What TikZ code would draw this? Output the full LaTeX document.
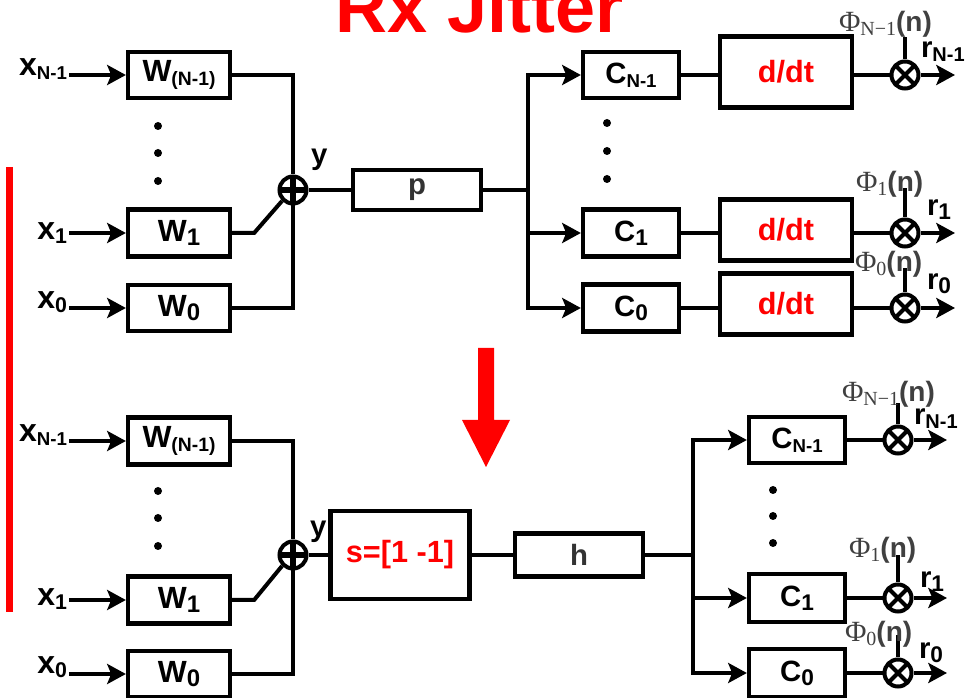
\documentclass[tikz,border=0pt]{standalone}
\usepackage{fontspec}
\setmainfont{Liberation Sans}
\newfontfamily\phifont{Liberation Serif}
\usetikzlibrary{arrows.meta,calc}
\definecolor{phigray}{RGB}{64,64,64}
\definecolor{lblgray}{RGB}{51,51,51}
\newcommand\fs[1]{\fontsize{#1}{#1}\selectfont}
\newcommand\sbs[2]{\raisebox{-3pt}{\fs{#1}#2}}
\newcommand\philab[1]{{\color{phigray}{\phifont\mdseries\fs{22pt}Φ\raisebox{-3pt}{\fs{15pt}#1}}{\fs{21pt}\bfseries(n)}}}
\begin{document}
\begin{tikzpicture}[x=0.75pt,y=-0.75pt,line width=3pt,
  blk/.style={draw,line width=3.2pt,inner sep=0pt,font=\bfseries},
  sz/.style 2 args={minimum width=#1*0.75pt,minimum height=#2*0.75pt},
  lbl/.style={inner sep=0pt,font=\bfseries},
  arr/.style={-{Stealth[length=14pt,width=15pt,inset=3pt]}},
  sum/.style={circle,draw,line width=3pt,inner sep=0pt,minimum size=27*0.75pt,
    path picture={\draw[line width=4pt] (path picture bounding box.north) -- (path picture bounding box.south)
      (path picture bounding box.west) -- (path picture bounding box.east);}},
  mult/.style={circle,draw,line width=3pt,inner sep=0pt,minimum size=27*0.75pt,
    path picture={\draw[line width=3pt] (path picture bounding box.north west) -- (path picture bounding box.south east)
      (path picture bounding box.north east) -- (path picture bounding box.south west);}},
  dot/.style={circle,fill,inner sep=0pt,minimum size=8*0.75pt},
  rlab/.style={lbl,anchor=base west},
  flab/.style={inner sep=0pt,anchor=base west}
]
\useasboundingbox (0,0) rectangle (972,698);
\clip (0,0) rectangle (972,698);

% title and red marks
\node[lbl,red,anchor=base,font=\bfseries\fs{54pt}] (title) at (480,33) {Rx Jitter};
\draw[red,line width=5.25pt] (9.5,167) -- (9.5,612);
\fill[red] (478,348) -- (494,348) -- (494,420) -- (510,420) -- (486,467) -- (462,420) -- (478,420) -- cycle;

% ===== top =====
\node[blk,sz={102}{46}] (wN) at (179,75) {\fs{23pt}W\sbs{14.5pt}{(N-1)}};
\node[blk,sz={102}{47}] (w1) at (179,233) {\fs{23pt}W\sbs{18pt}{1}};
\node[blk,sz={102}{46}] (w0) at (179,308) {\fs{23pt}W\sbs{18pt}{0}};
\node[lbl,anchor=base east] (xN) at (69,76) {\fs{24pt}x\sbs{14pt}{N-1}};
\node[lbl,anchor=base east] (x1) at (69,240) {\fs{24pt}x\sbs{16pt}{1}};
\node[lbl,anchor=base east] (x0) at (69,309) {\fs{24pt}x\sbs{16pt}{0}};
\draw[arr] (wN.west -| xN.east) -- (wN.west);
\draw[arr] (w1.west -| x1.east) -- (w1.west);
\draw[arr] (w0.west -| x0.east) -- (w0.west);
\node[dot] (dA1) at (158,126) {};
\node[dot] (dA2) at (158,153) {};
\node[dot] (dA3) at (158,181) {};
\node[sum] (s1) at (293,190) {};
\draw (wN.east) -| (s1.north);
\draw (w0.east) -| (s1.south);
\draw (w1.east) -- ++(22,0) -- (s1.south west);
\node[lbl,anchor=base west] (y1) at (309,165) {\fs{22pt}y};
\node[blk,sz={128}{40}] (p) at (417,190) {\color{lblgray}\fs{22pt}p};
\draw (s1.east) -- (p.west);
\coordinate (b1) at (528,190);
\node[blk,sz={96}{46}] (cN) at (631,75) {\fs{22pt}C\sbs{14pt}{N-1}};
\node[blk,sz={96}{47}] (c1) at (631,233) {\fs{22pt}C\sbs{17pt}{1}};
\node[blk,sz={96}{47}] (c0) at (631,308) {\fs{22pt}C\sbs{17pt}{0}};
\draw (p.east) -- (b1);
\draw[line cap=rect] (cN.west -| b1) -- (c0.west -| b1);
\draw[arr] (cN.west -| b1) -- (cN.west);
\draw[arr] (c1.west -| b1) -- (c1.west);
\draw[arr] (c0.west -| b1) -- (c0.west);
\node[dot] (dB1) at (607,123) {};
\node[dot] (dB2) at (607,151) {};
\node[dot] (dB3) at (607,179) {};
\node[blk,sz={132}{71}] (ddN) at (786,72) {\color{red}\fs{23pt}d/dt};
\node[blk,sz={132}{61}] (dd1) at (786,230) {\color{red}\fs{23pt}d/dt};
\node[blk,sz={132}{61}] (dd0) at (786,304) {\color{red}\fs{23pt}d/dt};
\node[mult] (mN) at (905,75) {};
\node[mult] (m1) at (905,233) {};
\node[mult] (m0) at (905,308) {};
\draw (cN.east) -- (cN.east -| ddN.west);
\draw (c1.east) -- (c1.east -| dd1.west);
\draw (c0.east) -- (c0.east -| dd0.west);
\draw (mN.west -| ddN.east) -- (mN.west);
\draw (m1.west -| dd1.east) -- (m1.west);
\draw (m0.west -| dd0.east) -- (m0.west);
\coordinate (oN) at (955,75);
\coordinate (o1) at (955,233);
\coordinate (o0) at (955,308);
\draw[arr] (mN.east) -- (oN);
\draw[arr] (m1.east) -- (o1);
\draw[arr] (m0.east) -- (o0);
\coordinate (tN) at (905,37);
\coordinate (t1) at (905,188);
\coordinate (t0) at (905,268);
\draw (mN.north) -- (tN);
\draw (m1.north) -- (t1);
\draw (m0.north) -- (t0);
\node[flab] (fN) at (837,32) {\philab{N−1}};
\node[flab] (f1) at (854,192) {\philab{1}};
\node[flab] (f0) at (853,272) {\philab{0}};
\node[rlab] (rN) at (919,58) {\fs{22pt}r\sbs{15pt}{N-1}};
\node[rlab] (r1) at (925,216) {\fs{22pt}r\sbs{17pt}{1}};
\node[rlab] (r0) at (925,290) {\fs{22pt}r\sbs{17pt}{0}};

% ===== bottom =====
\node[blk,sz={102}{47}] (wN2) at (179,441) {\fs{23pt}W\sbs{14.5pt}{(N-1)}};
\node[blk,sz={102}{47}] (w12) at (179,600) {\fs{23pt}W\sbs{18pt}{1}};
\node[blk,sz={102}{46}] (w02) at (179,674) {\fs{23pt}W\sbs{18pt}{0}};
\node[lbl,anchor=base east] (xN2) at (69,442) {\fs{24pt}x\sbs{14pt}{N-1}};
\node[lbl,anchor=base east] (x12) at (69,606) {\fs{24pt}x\sbs{16pt}{1}};
\node[lbl,anchor=base east] (x02) at (69,673) {\fs{24pt}x\sbs{16pt}{0}};
\draw[arr] (wN2.west -| xN2.east) -- (wN2.west);
\draw[arr] (w12.west -| x12.east) -- (w12.west);
\draw[arr] (w02.west -| x02.east) -- (w02.west);
\node[dot] (dC1) at (158,491) {};
\node[dot] (dC2) at (158,518) {};
\node[dot] (dC3) at (158,546) {};
\node[sum] (s2) at (293,555) {};
\draw (wN2.east) -| (s2.north);
\draw (w02.east) -| (s2.south);
\draw (w12.east) -- ++(22,0) -- (s2.south west);
\node[lbl,anchor=base west] (y2) at (308,537) {\fs{22pt}y};
\node[blk,sz={139}{88}] (sb) at (400,555) {\color{red}\fs{23pt}s=[1 -1]};
\node[blk,sz={128}{43}] (hb) at (579,555) {\color{lblgray}\fs{22pt}h};
\draw (s2.east) -- (sb.west);
\draw (sb.east) -- (hb.west);
\coordinate (b2) at (693,555);
\draw (hb.east) -- (b2);
\node[blk,sz={96}{46}] (cN2) at (797,440) {\fs{22pt}C\sbs{14pt}{N-1}};
\node[blk,sz={96}{48}] (c12) at (797,598) {\fs{22pt}C\sbs{17pt}{1}};
\node[blk,sz={96}{48}] (c02) at (797,673) {\fs{22pt}C\sbs{17pt}{0}};
\draw[line cap=rect] (cN2.west -| b2) -- (c02.west -| b2);
\draw[arr] (cN2.west -| b2) -- (cN2.west);
\draw[arr] (c12.west -| b2) -- (c12.west);
\draw[arr] (c02.west -| b2) -- (c02.west);
\node[dot] (dD1) at (773,490) {};
\node[dot] (dD2) at (773,516) {};
\node[dot] (dD3) at (773,543) {};
\node[mult] (mN2) at (898,440) {};
\node[mult] (m12) at (898,598) {};
\node[mult] (m02) at (898,673) {};
\draw (cN2.east) -- (mN2.west);
\draw (c12.east) -- (m12.west);
\draw (c02.east) -- (m02.west);
\coordinate (oN2) at (947,440);
\coordinate (o12) at (947,598);
\coordinate (o02) at (947,673);
\draw[arr] (mN2.east) -- (oN2);
\draw[arr] (m12.east) -- (o12);
\draw[arr] (m02.east) -- (o02);
\coordinate (tN2) at (898,403);
\coordinate (t12) at (898,555);
\coordinate (t02) at (898,635);
\draw (mN2.north) -- (tN2);
\draw (m12.north) -- (t12);
\draw (m02.north) -- (t02);
\node[flab] (fN2) at (840,402) {\philab{N−1}};
\node[flab] (f12) at (847,558) {\philab{1}};
\node[flab] (f02) at (843,642) {\philab{0}};
\node[rlab] (rN2) at (912,425) {\fs{22pt}r\sbs{15pt}{N-1}};
\node[rlab] (r12) at (918,588) {\fs{22pt}r\sbs{17pt}{1}};
\node[rlab] (r02) at (917,658) {\fs{22pt}r\sbs{17pt}{0}};
\end{tikzpicture}
\end{document}
